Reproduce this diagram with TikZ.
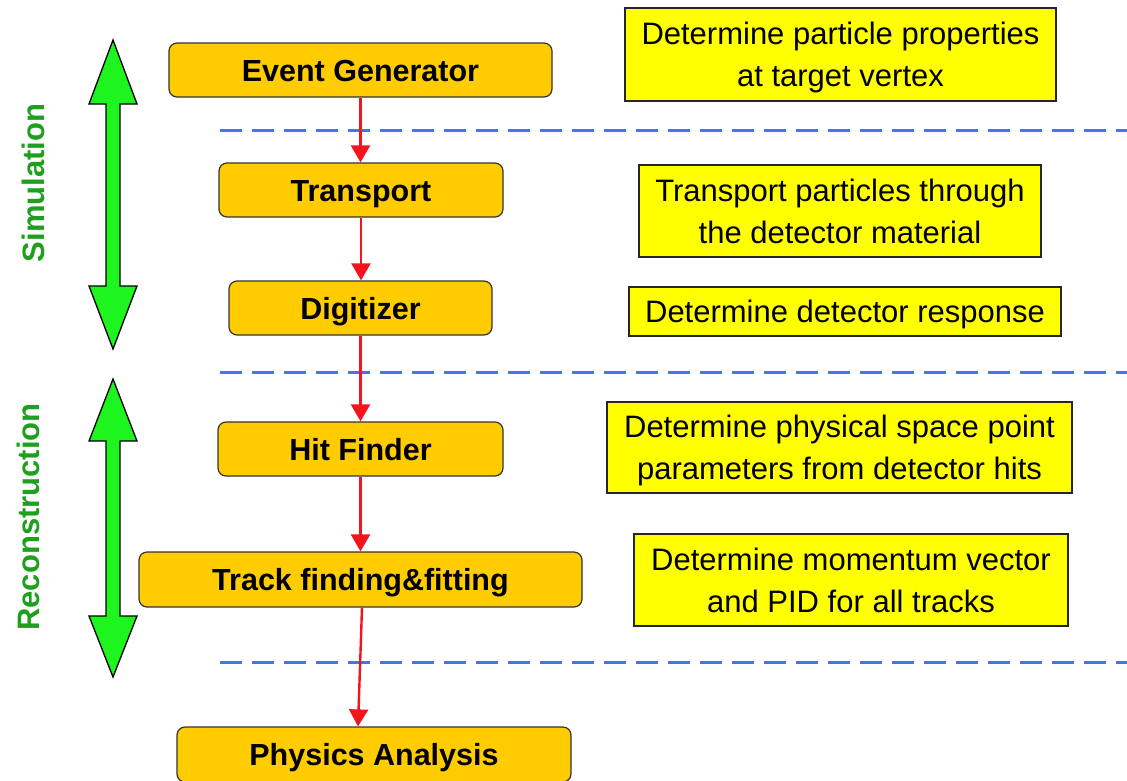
\documentclass[tikz,border=0pt]{standalone}
\usepackage{fontspec}
\setmainfont{Liberation Sans}
\usetikzlibrary{arrows.meta,calc}
\definecolor{orangefill}{RGB}{255,204,0}
\definecolor{yellowfill}{RGB}{255,255,0}
\definecolor{dashblue}{RGB}{70,115,240}
\definecolor{arrowred}{RGB}{245,20,30}
\definecolor{arrowgreen}{RGB}{30,245,30}
\definecolor{labelgreen}{RGB}{30,160,30}
\tikzset{
  obox/.style={draw=black!80, line width=1.2pt, fill=orangefill, rounded corners=8pt,
    font=\fontsize{30.5}{36}\selectfont\bfseries, inner sep=0pt, text height=22pt, text depth=0pt},
  ybox/.style={draw=black!85, line width=1.2pt, fill=yellowfill, align=center,
    font=\fontsize{31}{42}\selectfont, inner sep=0pt, text depth=0pt},
  ytwo/.style={ybox, text height=64.5pt},
  yone/.style={ybox, text height=22.5pt},
  flow/.style={draw=arrowred, line width=2.4pt, -{Triangle[width=19pt,length=17pt]}},
  sep/.style={draw=dashblue, line width=3pt, dash pattern=on 22pt off 10pt},
  garrow/.style={draw=black, line width=1.3pt, fill=arrowgreen, line join=miter},
  glabel/.style={text=labelgreen, font=\fontsize{31}{36}\selectfont\bfseries, rotate=90, inner sep=0pt}
}
\begin{document}
\begin{tikzpicture}[x=1pt,y=-1pt]
\useasboundingbox (0,0) rectangle (1127,780);
% separators
\draw[sep] (220,130) -- (1127,130);
\draw[sep] (220,372) -- (1127,372);
\draw[sep] (220,662) -- (1127,662);
% green double arrows
\draw[garrow] (113,40) -- (137,104) -- (120,104) -- (120,286) -- (137,286) -- (113,349)
  -- (89,286) -- (106,286) -- (106,104) -- (89,104) -- cycle;
\draw[garrow] (113,379) -- (137,441) -- (120,441) -- (120,616) -- (137,616) -- (113,677)
  -- (89,616) -- (106,616) -- (106,441) -- (89,441) -- cycle;
\node[glabel] (sim) at (33,183) {Simulation};
\node[glabel] (rec) at (28,517) {Reconstruction};
% orange process boxes
\node[obox, minimum width=383pt, minimum height=54pt] (eg) at (360.5,70) {Event Generator};
\node[obox, minimum width=284pt, minimum height=54pt] (tr) at (361,190) {Transport};
\node[obox, minimum width=263pt, minimum height=54pt] (dg) at (360.5,308) {Digitizer};
\node[obox, minimum width=285pt, minimum height=54pt] (hf) at (360.5,449) {Hit Finder};
\node[obox, minimum width=443pt, minimum height=55pt] (tf) at (360.5,579.5) {Track finding\&fitting};
\node[obox, minimum width=394pt, minimum height=55pt] (pa) at (374,754.5) {Physics Analysis};
% yellow description boxes
\node[ytwo, minimum width=431pt, minimum height=93pt] (d1) at (840.5,54.5) {Determine particle properties\\at target vertex};
\node[ytwo, minimum width=402pt, minimum height=92pt] (d2) at (840,211) {Transport particles through\\the detector material};
\node[yone, minimum width=432pt, minimum height=49pt] (d3) at (845,311.5) {Determine detector response};
\node[ytwo, minimum width=465pt, minimum height=91pt] (d4) at (839.5,447.5) {Determine physical space point\\parameters from detector hits};
\node[ytwo, minimum width=434pt, minimum height=92pt] (d5) at (851,580) {Determine momentum vector\\and PID for all tracks};
% flow arrows
\coordinate (pain) at ($(pa.north)+(-16,0)$);
\coordinate (tfout) at ($(tf.south)+(1.5,0)$);
\draw[flow] (eg.south) -- (eg.south |- tr.north);
\draw[flow] (tr.south) -- (tr.south |- dg.north);
\draw[flow] (dg.south) -- (dg.south |- hf.north);
\draw[flow] (hf.south) -- (hf.south |- tf.north);
\draw[flow] (tfout) -- (pain);
\end{tikzpicture}
\end{document}
